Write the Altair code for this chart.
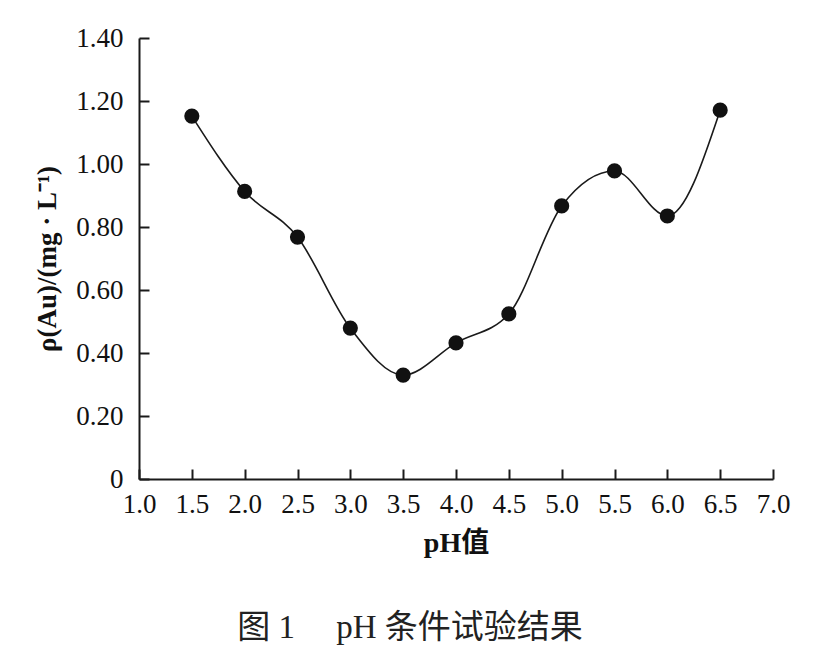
import altair as alt
import pandas as pd

ph = [1.5, 2.0, 2.5, 3.0, 3.5, 4.0, 4.5, 5.0, 5.5, 6.0, 6.5]
au = [1.152, 0.913, 0.768, 0.479, 0.330, 0.432, 0.524, 0.867, 0.978, 0.835, 1.171]
x_ticks = [1.0, 1.5, 2.0, 2.5, 3.0, 3.5, 4.0, 4.5, 5.0, 5.5, 6.0, 6.5, 7.0]
y_ticks = [0, 0.2, 0.4, 0.6, 0.8, 1.0, 1.2, 1.4]
caption = "图 1\u00a0\u00a0\u00a0\u00a0\u00a0pH 条件试验结果"

df = pd.DataFrame({"ph": ph, "au": au})

FONT = "Liberation Serif, Noto Sans CJK SC"

x = alt.X("ph:Q", scale=alt.Scale(domain=[1.0, 7.0], nice=False, zero=False),
          axis=alt.Axis(values=x_ticks, format=".1f", title="pH值",
                        titleFont=FONT, titleFontSize=28, titleFontWeight="bold",
                        titlePadding=12, labelPadding=22, labelFlush=False))
y = alt.Y("au:Q", scale=alt.Scale(domain=[0, 1.4], nice=False),
          axis=alt.Axis(values=y_ticks,
                        labelExpr="datum.value == 0 ? '0' : format(datum.value, '.2f')",
                        title="ρ(Au)/(mg · L⁻¹)",
                        titleFont=FONT, titleFontSize=27, titleFontWeight="bold",
                        titlePadding=14, labelPadding=26, labelFlush=False))

line = alt.Chart(df).mark_line(interpolate="monotone", color="#1a1a1a", strokeWidth=1.6).encode(x=x, y=y)
pts = alt.Chart(df).mark_circle(size=230, color="#111111", opacity=1).encode(x=x, y=y)
cap = alt.Chart(pd.DataFrame({"t": [caption]})).mark_text(
    font=FONT, fontSize=33, color="#222222", align="center", baseline="middle"
).encode(text="t:N", x=alt.value(271), y=alt.value(590))

chart = (line + pts + cap).properties(
    width=634, height=441,
    autosize=alt.AutoSizeParams(type="none"),
    padding={"left": 131, "top": 30, "right": 40, "bottom": 170},
).configure(background="white").configure_view(stroke=None).configure_axis(
    domainColor="#1a1a1a", domainWidth=2, tickColor="#1a1a1a", tickWidth=2,
    tickSize={"expr": "-10"},
    labelFont="Liberation Serif", labelFontSize=27, labelFontWeight="normal", labelColor="#111111",
    titleColor="#111111", grid=False,
)

chart.save("out.html", embed_options={"renderer": "svg", "actions": False})
